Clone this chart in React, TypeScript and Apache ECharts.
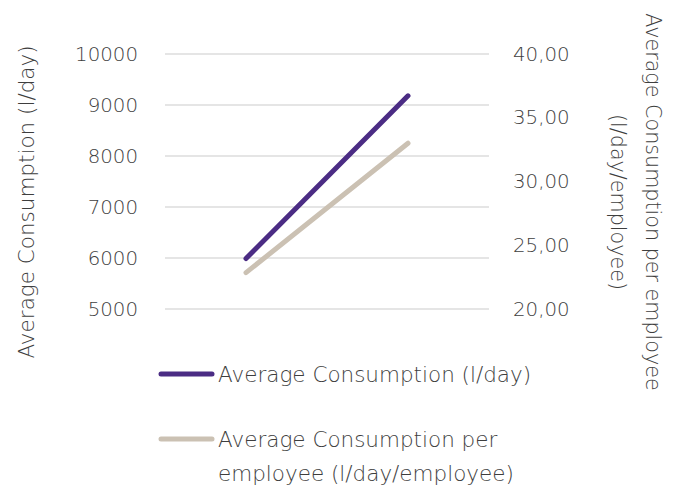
import React, { useEffect, useRef } from "react";
import * as echarts from "echarts";

// Two measurement periods (category labels are not displayed)
const periods = ["Period 1", "Period 2"];

const seriesNames = [
  "Average Consumption (l/day)",
  "Average Consumption per\nemployee (l/day/employee)",
];
const seriesColors = ["#4b2c84", "#cbc1b3"];

// Left axis: total consumption in l/day
const totalConsumption = [5990, 9180];
// Right axis: consumption per employee in l/day/employee
const perEmployee = [22.85, 33.0];

const leftAxisRange = { min: 5000, max: 10000, interval: 1000 };
const rightAxisRange = { min: 20, max: 40, interval: 5 };

const leftTitle = "Average Consumption (l/day)";
const rightTitle = "Average Consumption per employee\n(l/day/employee)";

const FONT = "DejaVu Sans";
const TEXT_COLOR = "#3e3e3e";
const LABEL_SIZE = 19.8;
const TEXT_SIZE = 21.5;
const RIGHT_TITLE_SIZE = 20.7;

export default function App() {
  const ref = useRef<HTMLDivElement>(null);

  useEffect(() => {
    if (!ref.current) return;
    document.body.style.margin = "0";
    const chart = echarts.init(ref.current, undefined, { renderer: "svg" });

    const legendRows = [374, 439];
    const textFont = `200 ${TEXT_SIZE}px "${FONT}"`;

    chart.setOption({
      animation: false,
      backgroundColor: "#ffffff",
      grid: { left: 165, right: 194, top: 54, bottom: 177 },
      xAxis: {
        type: "category",
        data: periods,
        boundaryGap: true,
        axisLine: { show: false },
        axisTick: { show: false },
        axisLabel: { show: false },
      },
      yAxis: [
        {
          type: "value",
          ...leftAxisRange,
          position: "left",
          axisLine: { show: false },
          axisTick: { show: false },
          axisLabel: {
            margin: 27,
            color: TEXT_COLOR,
            fontFamily: FONT,
            fontWeight: 200,
            fontSize: LABEL_SIZE,
            formatter: (v: number) => String(v),
          },
          splitLine: { lineStyle: { color: "#dcdcdc", width: 1.5 } },
        },
        {
          type: "value",
          ...rightAxisRange,
          position: "right",
          axisLine: { show: false },
          axisTick: { show: false },
          splitLine: { show: false },
          axisLabel: {
            margin: 24,
            color: TEXT_COLOR,
            fontFamily: FONT,
            fontWeight: 200,
            fontSize: LABEL_SIZE,
            formatter: (v: number) => v.toFixed(2).replace(".", ","),
          },
        },
      ],
      series: [
        {
          name: seriesNames[0],
          type: "line",
          yAxisIndex: 0,
          data: totalConsumption,
          showSymbol: false,
          lineStyle: { color: seriesColors[0], width: 5, cap: "round" },
        },
        {
          name: seriesNames[1],
          type: "line",
          yAxisIndex: 1,
          data: perEmployee,
          showSymbol: false,
          lineStyle: { color: seriesColors[1], width: 5, cap: "round" },
        },
      ],
      graphic: [
        {
          type: "text",
          x: 26,
          y: 202,
          rotation: Math.PI / 2,
          style: {
            text: leftTitle,
            fill: TEXT_COLOR,
            font: textFont,
            align: "center",
            verticalAlign: "middle",
          },
        },
        {
          type: "text",
          x: 635,
          y: 202,
          rotation: -Math.PI / 2,
          style: {
            text: rightTitle,
            fill: TEXT_COLOR,
            font: `200 ${RIGHT_TITLE_SIZE}px "${FONT}"`,
            lineHeight: 35,
            align: "center",
            verticalAlign: "middle",
          },
        },
        ...seriesNames.flatMap((name, i) => [
          {
            type: "line",
            shape: { x1: 161, y1: legendRows[i], x2: 212, y2: legendRows[i] },
            style: { stroke: seriesColors[i], lineWidth: 5, lineCap: "round" },
          },
          {
            type: "text",
            x: 218,
            y: legendRows[i] - 17,
            style: {
              text: name,
              fill: TEXT_COLOR,
              font: textFont,
              lineHeight: 34,
              align: "left",
              verticalAlign: "top",
            },
          },
        ]),
      ],
    });

    return () => chart.dispose();
  }, []);

  return <div ref={ref} style={{ width: 683, height: 486 }} />;
}
